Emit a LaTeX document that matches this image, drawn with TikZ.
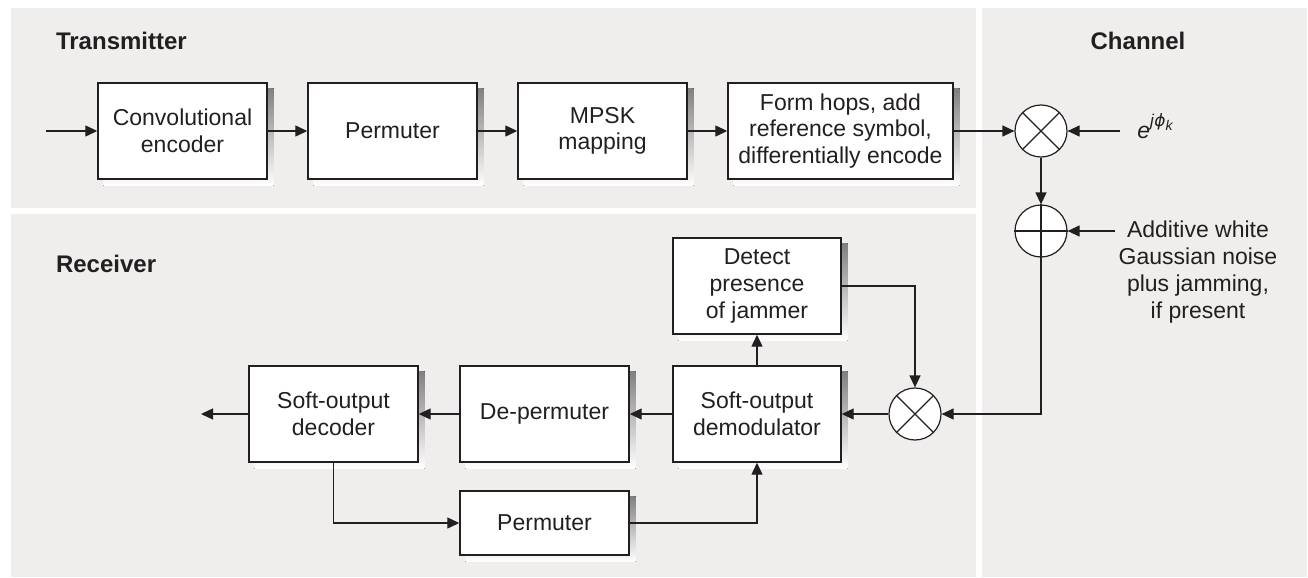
\documentclass[tikz,border=0pt]{standalone}
\usepackage{fontspec}
\setmainfont{Liberation Sans}
\newfontfamily\dejavu{DejaVu Sans}
\usetikzlibrary{arrows.meta,calc,backgrounds}
\definecolor{panel}{RGB}{239,238,236}
\definecolor{shade}{RGB}{180,181,185}
\definecolor{ink}{RGB}{35,31,32}
\begin{document}
\begin{tikzpicture}[x=0.5pt,y=-0.5pt,
  font=\fontsize{11.5}{13.35}\selectfont,
  blk/.style={draw=ink, line width=0.7pt, fill=white, text=ink, align=center,
    minimum width=84.5pt, minimum height=48pt, inner sep=0pt},
  mixer/.style={circle, draw=ink, line width=0.6pt, fill=white, minimum size=26pt, inner sep=0pt},
  arr/.style={draw=ink, line width=0.6pt, -{Triangle[length=6pt,width=5.5pt]}},
  title/.style={font=\bfseries\fontsize{12}{14}\selectfont, text=ink},
  lbl/.style={text=ink, align=center, font=\fontsize{11.5}{13.5}\selectfont}]
\useasboundingbox (0,0) rectangle (1308,578);
% titles
\node[title, anchor=base west] (ttx) at (49,49) {Transmitter};
\node[title, anchor=base] (tch) at (1138,49) {Channel};
\node[title, anchor=base west] (trx) at (49,272) {Receiver};
% transmitter
\node[blk] (conv) at (182.5,131) {Convolutional\\encoder};
\node[blk] (perm1) at (392.5,131) {Permuter};
\node[blk] (mpsk) at (602.5,131) {MPSK\\mapping};
\node[blk, minimum width=112.5pt] (form) at (840.5,131) {Form hops, add\\reference symbol,\\differentially encode};
\coordinate (in) at (46,131);
% channel
\node[mixer] (x1) at (1041,131) {};
\draw[ink, line width=0.6pt] (x1.north east) -- (x1.south west) (x1.north west) -- (x1.south east);
\node[mixer] (p1) at (1041,231) {};
\draw[ink, line width=0.6pt] (p1.north) -- (p1.south) (p1.west) -- (p1.east);
\coordinate (ejp) at (1120,131);
\node[text=ink, anchor=base west, inner sep=0pt] (ejptxt) at (1137,138)
  {\textit{e}\raisebox{0.95ex}{\fontsize{8.5}{10}\selectfont\textit{j}{\dejavu\itshape ϕ}\raisebox{-0.5ex}{\fontsize{7}{8}\selectfont\textit{k}}}};
\coordinate (awgn) at (1115,231);
\node[lbl] (awgntxt) at (1198,272) {Additive white\\Gaussian noise\\plus jamming,\\if present};
% receiver
\node[mixer] (x2) at (915,414) {};
\draw[ink, line width=0.6pt] (x2.north east) -- (x2.south west) (x2.north west) -- (x2.south east);
\node[blk, minimum width=84pt] (detect) at (757,286) {Detect\\presence\\of jammer};
\node[blk, minimum width=84pt] (demod) at (757,414) {Soft-output\\demodulator};
\node[blk] (deperm) at (544.5,414) {De-permuter};
\node[blk] (dec) at (333.5,414) {Soft-output\\decoder};
\node[blk, minimum height=32pt] (perm2) at (544.5,523) {Permuter};
\coordinate (out) at (201,414);
% panels and shadows
\begin{scope}[on background layer]
\fill[panel] (11,8) rectangle (976,208);
\fill[panel] (11,214) rectangle (976,577);
\fill[panel] (982,8) rectangle (1307,577);
\foreach \n in {conv,perm1,mpsk,form,detect,demod,deperm,dec,perm2}
  \fill[shade] ($(\n.south west)+(6,6)$) rectangle ($(\n.north east)+(6,6)$);
\end{scope}
% connectors
\draw[arr] (in) -- (conv.west);
\draw[arr] (conv) -- (perm1);
\draw[arr] (perm1) -- (mpsk);
\draw[arr] (mpsk) -- (form);
\draw[arr] (form) -- (x1);
\draw[arr] (ejp) -- (x1);
\draw[arr] (x1) -- (p1);
\draw[arr] (awgn) -- (p1);
\draw[arr] (p1.south) |- (x2.east);
\draw[arr] (detect.east) -| (x2.north);
\draw[arr] (x2) -- (demod);
\draw[arr] (demod) -- (detect);
\draw[arr] (demod) -- (deperm);
\draw[arr] (deperm) -- (dec);
\draw[arr] (dec.west) -- (out);
\draw[arr] (dec.south) |- (perm2.west);
\draw[arr] (perm2.east) -| (demod.south);
\end{tikzpicture}
\end{document}
